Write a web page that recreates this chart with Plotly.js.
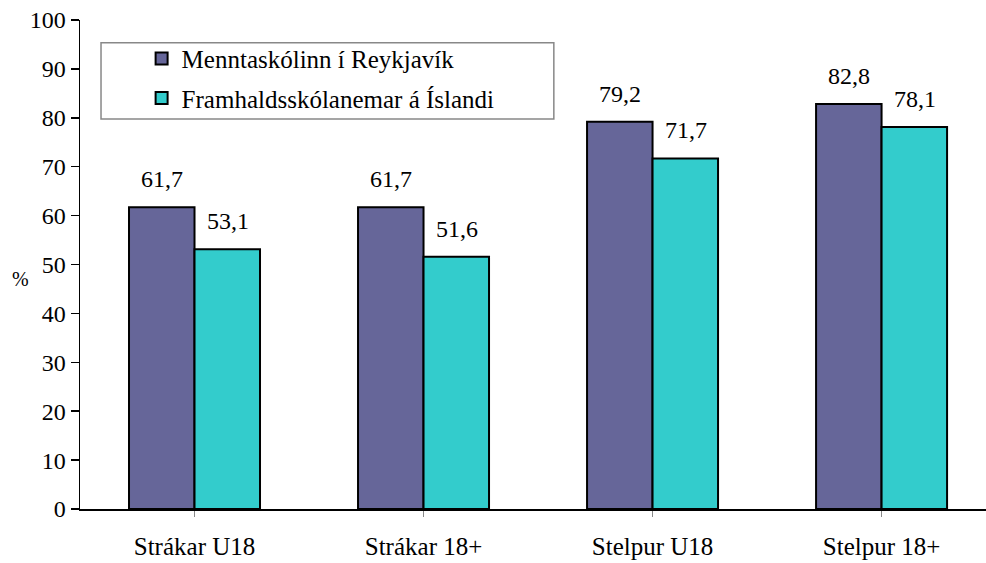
<!DOCTYPE html>
<html><head><meta charset="utf-8">
<script src="https://cdn.plot.ly/plotly-3.0.1.min.js"></script>
<style>body{margin:0;background:#fff}#c{width:986px;height:563px}</style>
</head><body><div id="c"></div>
<script>
const categories = ["Strákar U18", "Strákar 18+", "Stelpur U18", "Stelpur 18+"];
const seriesNames = ["Menntaskólinn í Reykjavík", "Framhaldsskólanemar á Íslandi"];
const mrValues = [61.7, 61.7, 79.2, 82.8];
const islandValues = [53.1, 51.6, 71.7, 78.1];
const yTicks = [0,10,20,30,40,50,60,70,80,90,100];

const fam = "Liberation Serif, Times New Roman, serif";
const font = {family: fam, size: 24, color: "#000"};
const catFont = {family: fam, size: 25, color: "#000"};
const legFont = {family: fam, size: 25, color: "#000"};
const xIdx = categories.map((c,i)=>i);
const traces = [
  {type:"bar", name: seriesNames[0], x: xIdx, y: mrValues, legendgroup:"a",
   marker:{color:"#666699", line:{color:"#000", width:2}}},
  {type:"bar", name: seriesNames[1], x: xIdx, y: islandValues, legendgroup:"b",
   marker:{color:"#33CCCC", line:{color:"#000", width:2}}}
];
const fmt = v => v.toFixed(1).replace(".", ",");
const annotations = [];
mrValues.forEach((v,i)=>annotations.push({x:i, y:v, xref:"x", yref:"y", text:fmt(v), showarrow:false, xshift:-33, yshift:28, font}));
islandValues.forEach((v,i)=>annotations.push({x:i, y:v, xref:"x", yref:"y", text:fmt(v), showarrow:false, xshift:33, yshift:28, font}));
annotations.push({xref:"paper", yref:"paper", x:-0.066, y:0.47, text:"%", showarrow:false, font:{...font, size:20}, xanchor:"center"});

const layout = {
  width: 986, height: 563,
  margin: {l:80, r:0, t:20, b:54},
  paper_bgcolor:"#fff", plot_bgcolor:"#fff",
  font,
  barmode:"group", bargap:0.428, bargroupgap:0,
  showlegend:true,
  legend:{x:0.068, y:0.968, xanchor:"left", yanchor:"top", bgcolor:"rgba(0,0,0,0)", borderwidth:0,
    font:legFont, traceorder:"grouped", tracegroupgap:4, itemwidth:30},
  shapes:[{type:"rect", xref:"paper", yref:"paper", x0:0.0232, x1:0.523, y0:0.7975, y1:0.9536,
    line:{color:"#888", width:1.5}, fillcolor:"#fff", layer:"above"}],
  xaxis:{range:[-0.5, 3.456], tickvals:xIdx, ticktext:categories, tickson:"boundaries",
    ticks:"outside", ticklen:6, tickcolor:"#888", tickwidth:1.5, ticklabelstandoff:8,
    showline:true, linecolor:"#000", linewidth:1.5, showgrid:false, zeroline:false,
    tickfont:catFont, fixedrange:true},
  yaxis:{range:[0,100], tickvals:yTicks, ticks:"outside", ticklen:8, tickcolor:"#000", tickwidth:1.5,
    ticksuffix:"\u2002",
    showline:true, linecolor:"#000", linewidth:1.5, showgrid:false, zeroline:false,
    tickfont:font, fixedrange:true},
  annotations
};
Plotly.newPlot("c", traces, layout, {displayModeBar:false, staticPlot:true});
</script></body></html>
